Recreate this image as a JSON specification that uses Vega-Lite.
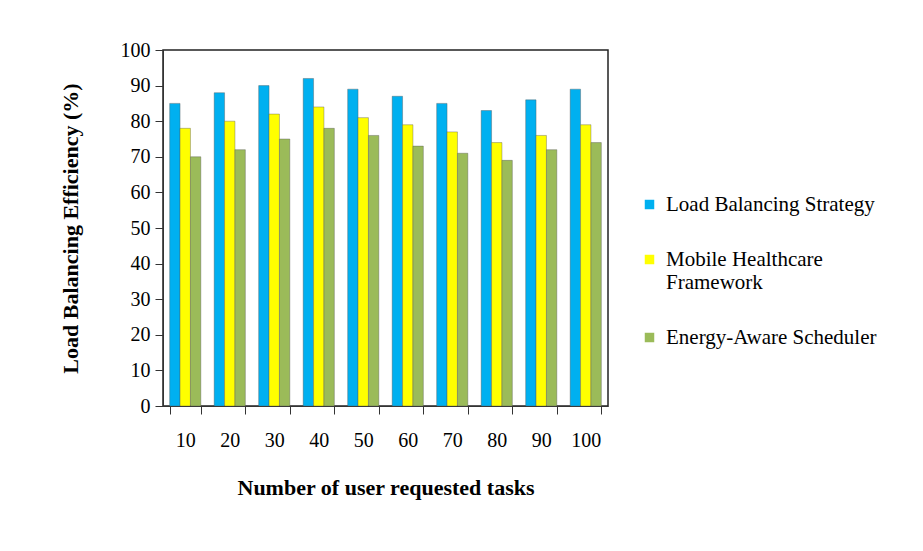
{
  "$schema": "https://vega.github.io/schema/vega-lite/v6.json",
  "autosize": "none",
  "width": 445,
  "height": 356,
  "padding": {"left": 163, "top": 50, "right": 315, "bottom": 145},
  "background": "white",
  "config": {
    "font": "Liberation Serif",
    "view": {"stroke": "#222", "strokeWidth": 1.5}
  },
  "data": {
    "values": [
      {"tasks": "10", "series": "Load Balancing Strategy", "value": 85},
      {"tasks": "20", "series": "Load Balancing Strategy", "value": 88},
      {"tasks": "30", "series": "Load Balancing Strategy", "value": 90},
      {"tasks": "40", "series": "Load Balancing Strategy", "value": 92},
      {"tasks": "50", "series": "Load Balancing Strategy", "value": 89},
      {"tasks": "60", "series": "Load Balancing Strategy", "value": 87},
      {"tasks": "70", "series": "Load Balancing Strategy", "value": 85},
      {"tasks": "80", "series": "Load Balancing Strategy", "value": 83},
      {"tasks": "90", "series": "Load Balancing Strategy", "value": 86},
      {"tasks": "100", "series": "Load Balancing Strategy", "value": 89},
      {"tasks": "10", "series": "Mobile Healthcare Framework", "value": 78},
      {"tasks": "20", "series": "Mobile Healthcare Framework", "value": 80},
      {"tasks": "30", "series": "Mobile Healthcare Framework", "value": 82},
      {"tasks": "40", "series": "Mobile Healthcare Framework", "value": 84},
      {"tasks": "50", "series": "Mobile Healthcare Framework", "value": 81},
      {"tasks": "60", "series": "Mobile Healthcare Framework", "value": 79},
      {"tasks": "70", "series": "Mobile Healthcare Framework", "value": 77},
      {"tasks": "80", "series": "Mobile Healthcare Framework", "value": 74},
      {"tasks": "90", "series": "Mobile Healthcare Framework", "value": 76},
      {"tasks": "100", "series": "Mobile Healthcare Framework", "value": 79},
      {"tasks": "10", "series": "Energy-Aware Scheduler", "value": 70},
      {"tasks": "20", "series": "Energy-Aware Scheduler", "value": 72},
      {"tasks": "30", "series": "Energy-Aware Scheduler", "value": 75},
      {"tasks": "40", "series": "Energy-Aware Scheduler", "value": 78},
      {"tasks": "50", "series": "Energy-Aware Scheduler", "value": 76},
      {"tasks": "60", "series": "Energy-Aware Scheduler", "value": 73},
      {"tasks": "70", "series": "Energy-Aware Scheduler", "value": 71},
      {"tasks": "80", "series": "Energy-Aware Scheduler", "value": 69},
      {"tasks": "90", "series": "Energy-Aware Scheduler", "value": 72},
      {"tasks": "100", "series": "Energy-Aware Scheduler", "value": 74}
    ]
  },
  "mark": {"type": "bar", "stroke": "#555", "strokeWidth": 0.4},
  "encoding": {
    "x": {
      "field": "tasks",
      "type": "nominal",
      "sort": null,
      "scale": {"paddingInner": 0.3, "paddingOuter": 0.15},
      "axis": {
        "title": "Number of user requested tasks",
        "titleFont": "Liberation Serif",
        "titleFontSize": 22,
        "titleFontWeight": "bold",
        "titleColor": "#000",
        "titlePadding": 27,
        "labelAngle": 0,
        "labelFontSize": 20,
        "labelColor": "#000",
        "labelPadding": 16,
        "domainColor": "#333",
        "tickColor": "#333",
        "tickSize": 8,
        "tickBand": "extent"
      }
    },
    "xOffset": {"field": "series", "type": "nominal", "sort": ["Load Balancing Strategy", "Mobile Healthcare Framework", "Energy-Aware Scheduler"]},
    "y": {
      "field": "value",
      "type": "quantitative",
      "scale": {"domain": [0, 100]},
      "axis": {
        "title": "Load Balancing Efficiency (%)",
        "titleFont": "Liberation Serif",
        "titleFontSize": 22,
        "titleFontWeight": "bold",
        "titleColor": "#000",
        "titlePadding": 38,
        "values": [0, 10, 20, 30, 40, 50, 60, 70, 80, 90, 100],
        "labelFontSize": 20,
        "labelColor": "#000",
        "labelPadding": 5,
        "grid": false,
        "domainColor": "#333",
        "tickColor": "#333",
        "tickSize": 8
      }
    },
    "color": {
      "field": "series",
      "type": "nominal",
      "sort": ["Load Balancing Strategy", "Mobile Healthcare Framework", "Energy-Aware Scheduler"],
      "scale": {
        "domain": ["Load Balancing Strategy", "Mobile Healthcare Framework", "Energy-Aware Scheduler"],
        "range": ["#00B0F0", "#FFFF00", "#9BBB59"]
      },
      "legend": {
        "title": null,
        "orient": "none",
        "legendX": 476,
        "legendY": 144,
        "symbolType": "square",
        "symbolSize": 90,
        "symbolStrokeWidth": 0,
        "labelFont": "Liberation Serif",
        "labelFontSize": 21,
        "labelColor": "#000",
        "labelLimit": 300,
        "labelOffset": 6,
        "rowPadding": 33,
        "labelExpr": "datum.label == 'Mobile Healthcare Framework' ? ['Mobile Healthcare', 'Framework'] : datum.label"
      }
    }
  }
}
